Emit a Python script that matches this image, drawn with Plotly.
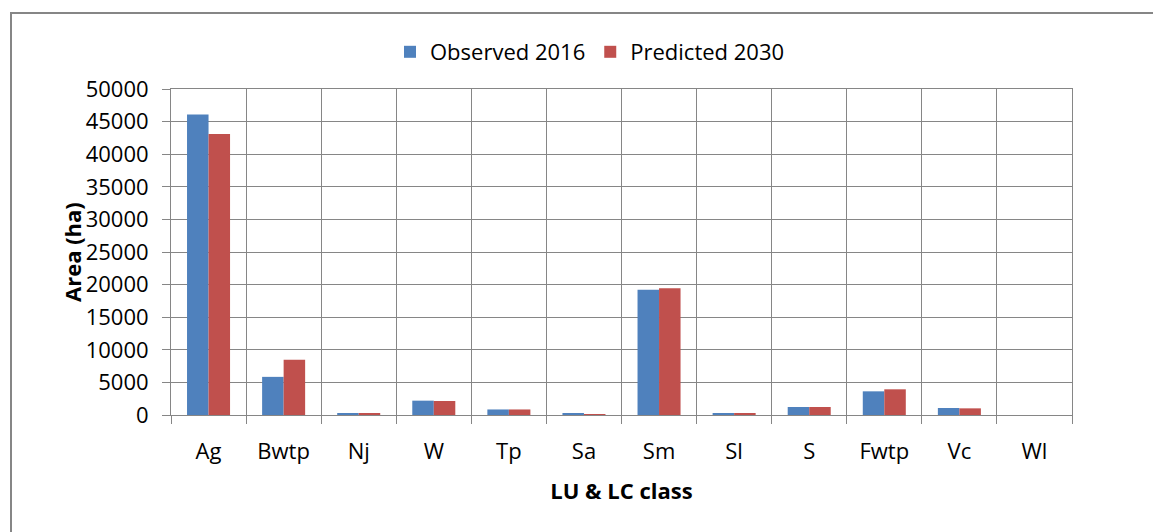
import plotly.graph_objects as go

categories = ["Ag", "Bwtp", "Nj", "W", "Tp", "Sa", "Sm", "Sl", "S", "Fwtp", "Vc", "Wl"]
observed_2016 = [46100, 5850, 200, 2200, 850, 200, 19200, 200, 1230, 3630, 1070, 0]
predicted_2030 = [43100, 8460, 200, 2150, 850, 150, 19450, 200, 1230, 3940, 1020, 0]
y_ticks = list(range(0, 50001, 5000))

FONT = "Open Sans"
GRID = "#868686"

fig = go.Figure()
fig.add_trace(go.Bar(name="Observed 2016", x=categories, y=observed_2016,
                     marker=dict(color="#4F81BD", line=dict(width=0))))
fig.add_trace(go.Bar(name="Predicted 2030", x=categories, y=predicted_2030,
                     marker=dict(color="#C0504D", line=dict(width=0))))

OFF = 8  # page body margin
W, H = 1161 - OFF, 532 - OFF
L, R, T, B = 171 - OFF, 89, 89 - OFF, 117
pw, ph = W - L - R, H - T - B

def px_x(x):
    return (x - OFF - L) / pw

def px_y(y):
    return (H - B - (y - OFF)) / ph

fig.update_layout(
    width=W, height=H,
    margin=dict(l=L, r=R, t=T, b=B, autoexpand=False),
    paper_bgcolor="white", plot_bgcolor="white",
    font=dict(family=FONT, size=22, color="black"),
    barmode="group", bargap=0.427, bargroupgap=0,
    showlegend=True,
    legend=dict(orientation="h", x=px_x(590), xanchor="center", y=px_y(52), yanchor="middle",
                font=dict(family=FONT, size=22), traceorder="normal",
                itemwidth=30, bgcolor="rgba(0,0,0,0)"),
    xaxis=dict(type="category", tickson="boundaries", showgrid=True, gridcolor=GRID, gridwidth=1,
               ticks="outside", ticklen=8, tickcolor=GRID, tickwidth=1,
               showline=True, linecolor=GRID, linewidth=1, mirror=True,
               ticklabelstandoff=17,
               tickfont=dict(family=FONT, size=22),
               title=dict(text="<b>LU & LC class</b>", font=dict(family=FONT, size=22), standoff=19)),
    yaxis=dict(range=[0, 50000], tickvals=y_ticks, ticktext=[str(v) for v in y_ticks],
               showgrid=True, gridcolor=GRID, gridwidth=1,
               ticks="outside", ticklen=8, tickcolor=GRID, tickwidth=1,
               showline=True, linecolor=GRID, linewidth=1, mirror=True,
               ticklabelstandoff=9,
               tickfont=dict(family=FONT, size=22), zeroline=False),
    annotations=[dict(text="<b>Area (ha)</b>", textangle=-90, xref="paper", yref="paper",
                      x=px_x(72), y=0.5, xanchor="center", yanchor="middle", showarrow=False,
                      font=dict(family=FONT, size=22, color="black"))],
    shapes=[dict(type="rect", xref="paper", yref="paper",
                 x0=px_x(11), x1=px_x(1200), y0=px_y(560), y1=px_y(13),
                 line=dict(color=GRID, width=2), fillcolor="rgba(0,0,0,0)", layer="below")],
)

fig.write_html("out.html")
